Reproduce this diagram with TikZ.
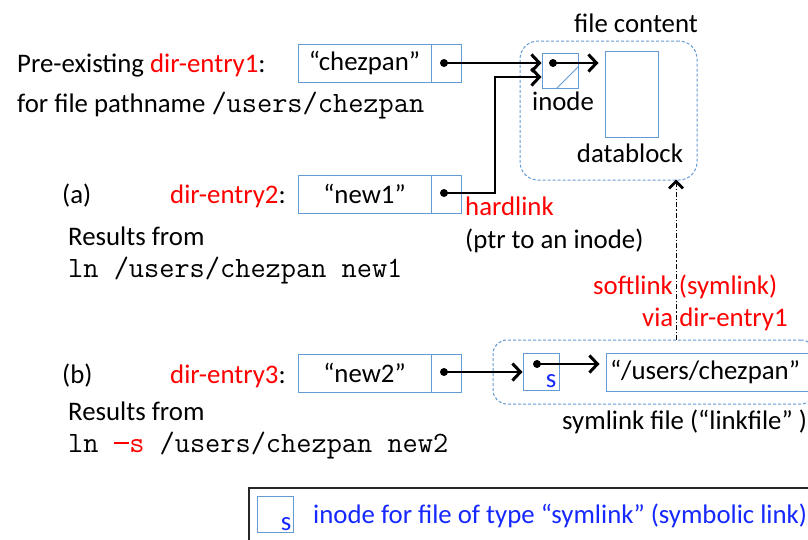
\documentclass[tikz,border=0pt]{standalone}
\usepackage{fontspec}
\setmainfont{Carlito}
\usetikzlibrary{arrows.meta}
\definecolor{boxblue}{RGB}{100,155,210}
\definecolor{legblue}{RGB}{20,40,255}
% typewriter text for paths and commands
\newcommand{\pathtt}[1]{{\fontsize{29.5}{34}\selectfont\ttfamily #1}}
% a long dash that keeps one typewriter cell of width
\newcommand{\optdash}{\makebox[0.525em]{\rule[0.27em]{0.52em}{1.7pt}}}
\tikzset{
  txt/.style={anchor=base west, inner sep=0pt},
  cell/.style={draw=boxblue, line width=1pt, inner sep=0pt},
  grp/.style={draw=boxblue, line width=1pt, dash pattern=on 3pt off 2pt, inner sep=0pt},
  dot/.style={circle, fill=black, inner sep=0pt, minimum size=8pt},
  ptr/.style={line width=1.4pt, -{Straight Barb[length=8pt,width=17pt,line width=3pt]}},
}
\begin{document}
\begin{tikzpicture}[x=1pt, y=-1pt, font=\fontsize{26.8}{31}\selectfont]
\clip (0,0) rectangle (808,539);
\useasboundingbox (0,0) rectangle (808,539);
\fill[white] (0,0) rectangle (808,539);

% dashed groups: file content and symlink file
\node[grp, rounded corners=18pt, minimum width=177, minimum height=139] (fcbox) at (608.5,110.5) {};
\node[grp, rounded corners=14pt, minimum width=322, minimum height=64] (symbox) at (654,372) {};

% directory entries
\node[cell, minimum width=133, minimum height=38] (c1) at (364.5,63) {“chezpan”};
\node[cell, minimum width=30, minimum height=38] (p1) at (446,63) {};
\node[cell, minimum width=133, minimum height=38] (c2) at (364.5,194) {“new1”};
\node[cell, minimum width=30, minimum height=38] (p2) at (446,194) {};
\node[cell, minimum width=133, minimum height=38] (c3) at (364.5,373) {“new2”};
\node[cell, minimum width=30, minimum height=38] (p3) at (446,373) {};
\node[dot] (d1) at (444,63) {};
\node[dot] (d2) at (444,193) {};
\node[dot] (d3) at (444,372) {};

% inode and datablock
\node[cell, minimum width=36, minimum height=35] (inode) at (560,70.5) {};
\draw[boxblue, line width=1pt] (557,88) -- (578,67);
\node[dot] (idot) at (553,63) {};
\node[cell, minimum width=53, minimum height=86] (db) at (631.5,94) {};

% symlink inode and its content
\node[cell, minimum width=36, minimum height=37] (sinode) at (541,371.5) {};
\node[dot] (sdot) at (537,364) {};
\node[anchor=base, inner sep=0pt, text=legblue] (slab) at (551,387) {s};
\node[cell, minimum width=204, minimum height=38] (tgt) at (708,372) {};
\node[inner sep=0pt] (tgttext) at (705,372) {“/users/chezpan”};

% labels
\node[txt] (pre) at (17,72) {Pre-existing \textcolor{red}{dir-entry1}:};
\node[txt] (forfile) at (17,112) {for file pathname \pathtt{/users/chezpan}};
\node[txt] (fc) at (574,32) {file content};
\node[anchor=base, inner sep=0pt] (ilab) at (563,110) {inode};
\node[anchor=base, inner sep=0pt] (dlab) at (630,162) {datablock};
\node[txt] (la) at (62,203) {(a)};
\node[txt] (de2) at (170,203) {\textcolor{red}{dir-entry2}:};
\node[txt] (res1) at (68,245) {Results from};
\node[txt] (cmd1) at (68,277) {\pathtt{ln /users/chezpan new1}};
\node[txt, text=red] (hl) at (465,215) {hardlink};
\node[txt] (ptr) at (465,248) {(ptr to an inode)};
\node[txt, text=red] (sl1) at (593,294) {softlink (symlink)};
\node[txt, text=red] (sl2) at (642,326) {via dir-entry1};
\node[txt] (lb) at (62,383) {(b)};
\node[txt] (de3) at (170,383) {\textcolor{red}{dir-entry3}:};
\node[txt] (res2) at (68,420) {Results from};
\node[txt] (cmd2) at (68,452) {\pathtt{ln \textcolor{red}{\optdash s} /users/chezpan new2}};
\node[txt] (slf) at (562,429) {symlink file (“linkfile” )};

% links
\coordinate (bend) at (495,77);
\draw[ptr] (d1.center) -- (d1.center -| inode.west);
\draw[ptr] (d2.center) -| (bend) -- (bend -| inode.west);
\draw[ptr, shorten >=6pt] (idot.center) -- (idot.center -| db.west);
\draw[ptr] (d3.center) -- (d3.center -| sinode.west);
\draw[ptr, shorten >=6pt] (sdot.center) -- (sdot.center -| tgt.west);
\coordinate (slfoot) at (676,340);
\draw[line width=1pt, dash pattern=on 5pt off 2pt on 1.2pt off 2pt,
      -{Straight Barb[length=7pt,width=14pt,line width=2.8pt]}]
  (slfoot) -- ([yshift=1pt]slfoot |- fcbox.south);

% legend
\draw[line width=1.5pt, black!85] (249,488) rectangle (820,550);
\node[cell, minimum width=36, minimum height=36] (ls) at (275,514) {};
\node[anchor=base, inner sep=0pt, text=legblue] (lsl) at (286,530) {s};
\node[txt, text=legblue] (leg) at (313,523) {inode for file of type “symlink” (symbolic link)};
\end{tikzpicture}
\end{document}
